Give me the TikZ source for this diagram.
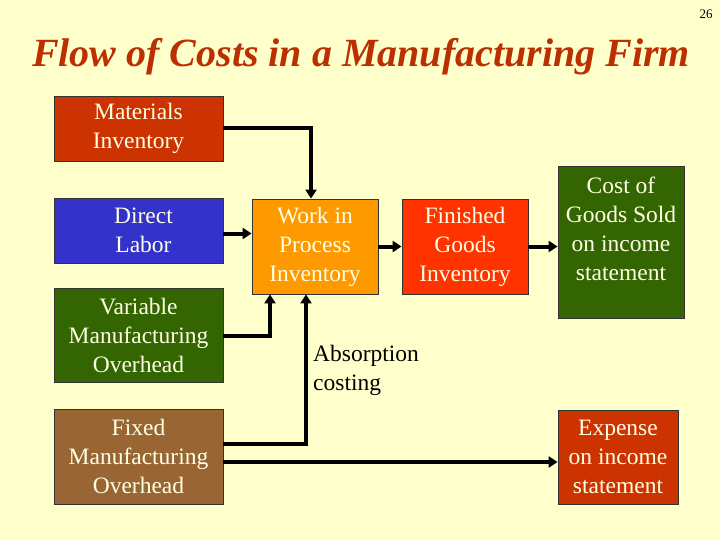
\documentclass[tikz,border=0pt]{standalone}
\usepackage{fontspec}
\setmainfont{Liberation Serif}
\usetikzlibrary{arrows.meta}

\definecolor{slidebg}{HTML}{FFFFCC}
\definecolor{rust}{HTML}{CC3300}
\definecolor{labblue}{HTML}{3333CC}
\definecolor{ohgreen}{HTML}{336600}
\definecolor{ohbrown}{HTML}{996633}
\definecolor{wiporange}{HTML}{FF9900}
\definecolor{fgred}{HTML}{FF3300}
\definecolor{boxtext}{HTML}{FFFFE6}

\begin{document}
\begin{tikzpicture}[x=1pt,y=-1pt,
    costbox/.style={rectangle,draw=black!80,line width=0.8pt,text=boxtext,
      align=center,font=\fontsize{23.5}{29}\selectfont,inner sep=0pt},
    flow/.style={line width=4pt,-{Triangle[length=9pt,width=11pt]}},
    plain/.style={line width=4pt}]
  \fill[slidebg] (0,0) rectangle (720,540);
  \useasboundingbox (0,0) rectangle (720,540);

  % title and page number
  \node (title) at (361,67) [anchor=base,text=rust!92!black,
    font=\fontsize{40}{40}\selectfont\bfseries\itshape]{Flow of Costs in a Manufacturing Firm};
  \node (page) at (706,14) [font=\fontsize{13}{13}\selectfont]{26};

  % cost pools on the left
  \node (mat) at (138.5,128.5) [costbox,fill=rust,minimum width=169pt,minimum height=65pt]{Materials\\Inventory};
  \node (dl) at (138.5,230.5) [costbox,fill=labblue,minimum width=169pt,minimum height=65pt]{\hspace*{10pt}Direct\\\hspace*{10pt}Labor};
  \node (voh) at (138.5,335) [costbox,fill=ohgreen,minimum width=169pt,minimum height=94pt]{Variable\\Manufacturing\\Overhead};
  \node (foh) at (138.5,456.5) [costbox,fill=ohbrown,minimum width=169pt,minimum height=95pt]{Fixed\\Manufacturing\\Overhead};

  % inventories and expenses
  \node (wip) at (315,246.5) [costbox,fill=wiporange,minimum width=126pt,minimum height=95pt]{Work in\\Process\\Inventory};
  \node (fg) at (465,246.5) [costbox,fill=fgred,minimum width=126pt,minimum height=95pt]{Finished\\Goods\\Inventory};
  \node (cogs) at (621,242) [costbox,fill=ohgreen,minimum width=126pt,minimum height=152pt]{};
  \node (cogstext) at ([yshift=13pt]cogs.center) [costbox,draw=none]{Cost of\\Goods Sold\\on income\\statement};
  \node (exp) at (618,457) [costbox,fill=rust,minimum width=120pt,minimum height=94pt]{Expense\\on income\\statement};

  \node (absorb) at (313,370) [anchor=west,align=left,inner sep=0pt,
    font=\fontsize{23.5}{29}\selectfont]{Absorption\\costing};

  % flows
  \draw[flow] (mat.east) -| ([xshift=-4pt]wip.north);
  \draw[flow] ([yshift=-3pt]dl.east) -- ([yshift=-3pt]dl.east -| wip.west);
  \draw[flow] ([yshift=-1pt]voh.east) -| ([xshift=-45pt]wip.south);
  \draw[flow] ([yshift=12.5pt]foh.east) -| ([xshift=-9pt]wip.south);
  \draw[flow] ([yshift=-5.5pt]foh.east) -- ([yshift=-5.5pt]foh.east -| exp.west);
  \draw[flow] (wip) -- (fg);
  \draw[flow] (fg.east) -- (fg.east -| cogs.west);
\end{tikzpicture}
\end{document}
